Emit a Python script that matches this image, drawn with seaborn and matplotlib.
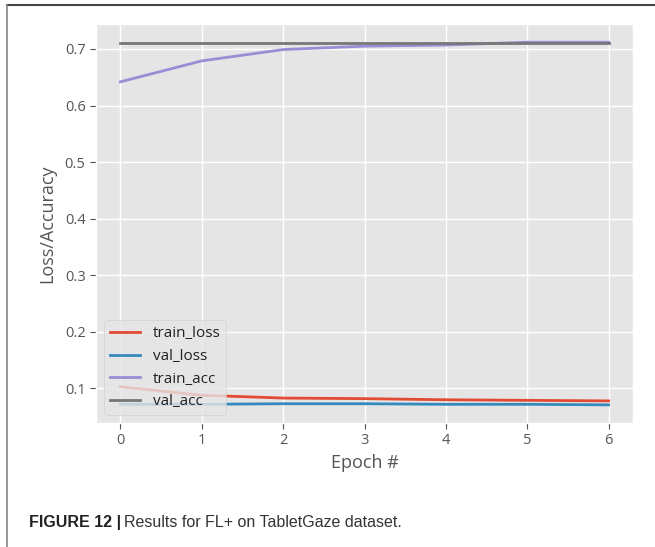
"""Training curves for FL+ on TabletGaze (loss and accuracy per epoch)."""

import matplotlib.pyplot as plt
import pandas as pd
import seaborn as sns
from matplotlib.lines import Line2D

epochs = [0, 1, 2, 3, 4, 5, 6]
train_loss = [0.103, 0.088, 0.083, 0.082, 0.080, 0.079, 0.078]
val_loss = [0.072, 0.072, 0.073, 0.073, 0.072, 0.072, 0.071]
train_acc = [0.642, 0.679, 0.699, 0.705, 0.707, 0.712, 0.712]
val_acc = [0.710, 0.710, 0.710, 0.710, 0.710, 0.710, 0.710]

series_names = ["train_loss", "val_loss", "train_acc", "val_acc"]
colors = ["#E24A33", "#348ABD", "#988ED5", "#777777"]


def main() -> None:
    plt.style.use("ggplot")
    plt.rcParams["font.family"] = ["Open Sans", "DejaVu Sans"]

    history = pd.DataFrame({
        "epoch": epochs * 4,
        "value": train_loss + val_loss + train_acc + val_acc,
        "series": [name for name in series_names for _ in epochs],
    })

    fig = plt.figure(figsize=(6.55, 5.47), dpi=100)
    ax = fig.add_axes([0.1466, 0.2267, 0.8198, 0.7293])
    sns.lineplot(
        data=history, x="epoch", y="value", hue="series",
        hue_order=series_names, palette=colors, linewidth=2, ax=ax,
    )
    ax.set_xticks(epochs)
    ax.set_yticks([0.1, 0.2, 0.3, 0.4, 0.5, 0.6, 0.7])
    ax.tick_params(labelsize=10.5, colors="#555555", length=4)
    ax.set_xlabel("Epoch #", fontsize=13, color="#555555")
    ax.set_ylabel("Loss/Accuracy", fontsize=13, color="#555555", labelpad=6)
    ax.grid(True, color="white", linewidth=1)

    leg = ax.legend(loc="lower left", fontsize=11, title=None)
    for text in leg.get_texts():
        text.set_color("#222222")

    # outer frame of the figure panel
    fig.add_artist(Line2D([0.011, 1.0], [0.991, 0.991], color="#444444", lw=1.5))
    fig.add_artist(Line2D([0.011, 0.011], [0.0, 0.991], color="#888888", lw=1.2))

    fig.text(0.044, 0.037, "FIGURE 12 |", fontsize=11.5, fontweight="bold",
             family="Liberation Sans", color="#222222")
    fig.text(0.189, 0.037, "Results for FL+ on TabletGaze dataset.", fontsize=11.5,
             family="Liberation Sans", color="#333333")

    fig.savefig("out.png", dpi=100, facecolor="white")
    plt.close(fig)


if __name__ == "__main__":
    main()
